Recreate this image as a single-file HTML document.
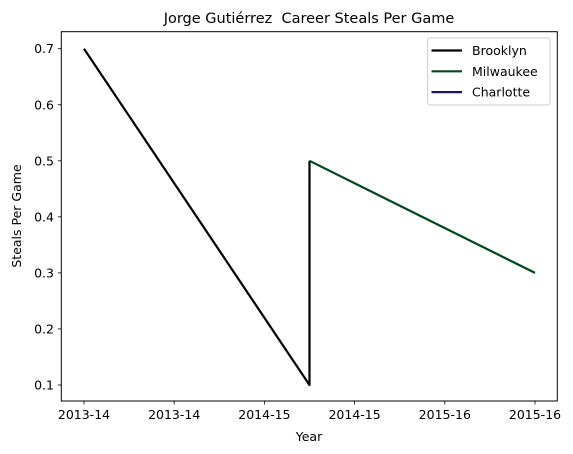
<!DOCTYPE html>
<html><head><meta charset="utf-8"><style>
html,body{margin:0;padding:0;background:#fff;}
svg{display:block;font-family:"DejaVu Sans","Liberation Sans",sans-serif;}
</style></head><body>
<svg id="chart" width="573" height="454" viewBox="0 0 573 454">
<rect x="0" y="0" width="573" height="454" fill="#fff"/>
<text x="309" y="23" text-anchor="middle" font-size="14.5" fill="#000" style="white-space:pre">Jorge Gutiérrez  Career Steals Per Game</text>
<g id="marks"></g>
<rect x="61.3" y="31.7" width="496" height="369.3" fill="none" stroke="#000" stroke-width="1"/>
<g id="xticks"></g>
<g id="yticks"></g>
<text x="309" y="441" text-anchor="middle" font-size="12.5">Year</text>
<text transform="translate(21,216) rotate(-90)" text-anchor="middle" font-size="12.5">Steals Per Game</text>
<g id="legend"></g>
</svg>
<script>
const seriesNames = ["Brooklyn", "Milwaukee", "Charlotte"];
const seriesColors = ["#000000", "#00471B", "#1D1160"];
const brooklynX = [0, 1, 1];
const brooklynY = [0.7, 0.1, 0.5];
const milwaukeeX = [1, 2];
const milwaukeeY = [0.5, 0.3];
const charlotteX = [];
const charlotteY = [];
const xTickValues = [0, 0.4, 0.8, 1.2, 1.6, 2.0];
const xTickLabels = ["2013-14", "2013-14", "2014-15", "2014-15", "2015-16", "2015-16"];
const yTickValues = [0.1, 0.2, 0.3, 0.4, 0.5, 0.6, 0.7];

const NS = "http://www.w3.org/2000/svg";
function xs(v){ return 84 + (v - 0) / 2 * 451; }
function ys(v){ return 385 - (v - 0.1) / 0.6 * 336.3; }
function mk(tag, attrs, parent){ const e = document.createElementNS(NS, tag); for (const k in attrs) e.setAttribute(k, attrs[k]); parent.appendChild(e); return e; }

const marks = document.getElementById("marks");
const allX = [brooklynX, milwaukeeX, charlotteX];
const allY = [brooklynY, milwaukeeY, charlotteY];
const keys = ["brooklyn", "milwaukee", "charlotte"];
for (let s = 0; s < 3; s++) {
  if (!allX[s].length) continue;
  const pts = allX[s].map((x, i) => xs(x).toFixed(2) + "," + ys(allY[s][i]).toFixed(2)).join(" ");
  const pl = mk("polyline", {points: pts, fill: "none", stroke: seriesColors[s], "stroke-width": 2.2, "stroke-linejoin": "round"}, marks);
  
  
}

const xg = document.getElementById("xticks");
xTickValues.forEach((v, i) => {
  const x = xs(v);
  const t = mk("line", {x1: x, x2: x, y1: 401, y2: 404.5, stroke: "#000", "stroke-width": 0.8}, xg);
  
  
  const l = mk("text", {x: x, y: 419, "text-anchor": "middle", "font-size": 12.5}, xg);
  l.textContent = xTickLabels[i];
  
  
});
const yg = document.getElementById("yticks");
yTickValues.forEach(v => {
  const y = ys(v);
  const t = mk("line", {x1: 57.8, x2: 61.3, y1: y, y2: y, stroke: "#000", "stroke-width": 0.8}, yg);
  
  
  const l = mk("text", {x: 54, y: y + 4.5, "text-anchor": "end", "font-size": 12.5}, yg);
  l.textContent = v.toFixed(1);
  
  
});

const lg = document.getElementById("legend");
const box = mk("rect", {x: 427.7, y: 38, width: 122.3, height: 67, rx: 2.5, fill: "#fff", "fill-opacity": 0.8, stroke: "#ccc", "stroke-width": 1}, lg);


seriesNames.forEach((n, i) => {
  const y = 50.5 + i * 20.8;
  const ln = mk("line", {x1: 431.5, x2: 462, y1: y, y2: y, stroke: seriesColors[i], "stroke-width": 2.2}, lg);
  
  
  const tx = mk("text", {x: 472, y: y + 4.5, "font-size": 12.5}, lg);
  tx.textContent = n;
  
  
});
</script>
</body></html>
